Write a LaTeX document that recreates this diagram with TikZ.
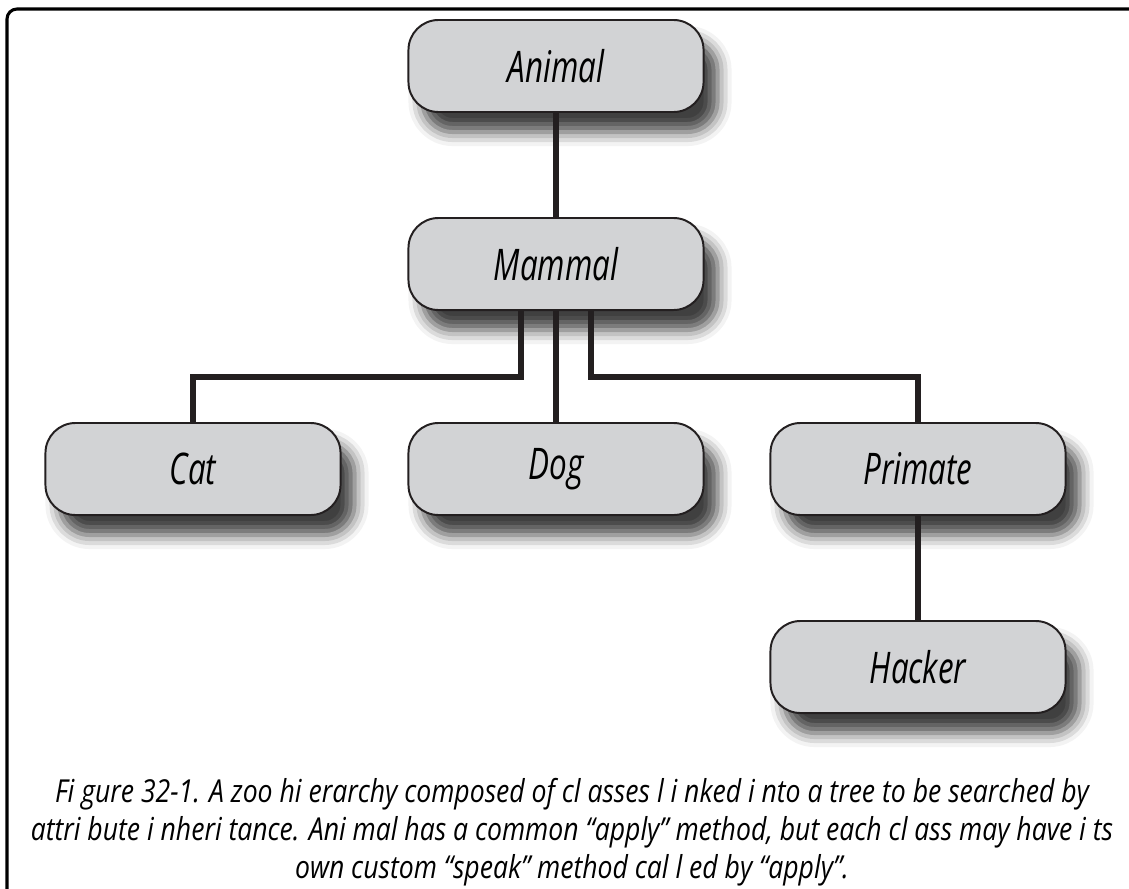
\documentclass[tikz,border=0pt]{standalone}
\usepackage{fontspec}
\newfontfamily\zoofont[FakeStretch=0.72]{Open Sans}
\newfontfamily\capfont[FakeStretch=0.84]{Open Sans}
\usetikzlibrary{shadows.blur,positioning}
\definecolor{boxfill}{RGB}{210,211,213}
\definecolor{linecol}{RGB}{35,31,32}

\begin{document}
\begin{tikzpicture}[x=0.025cm,y=-0.025cm,
    cls/.style={draw=linecol, line width=1.4pt, fill=boxfill, rounded corners=0.75cm,
        minimum width=7.375cm, minimum height=2.3cm, inner sep=0pt,
        font=\zoofont\itshape\fontsize{31}{36}\selectfont,
        blur shadow={shadow xshift=0.35cm, shadow yshift=-0.5cm,
            shadow blur radius=0.35cm, shadow opacity=75}},
    link/.style={draw=linecol, line width=3.6pt}]
    \useasboundingbox (0,0) rectangle (1129,888);
    \draw[line width=2.2pt, rounded corners=0.25cm] (7,900) -- (7,9) -- (1140,9);

    \node[cls] (A) at (556,66) {Animal};
    \node[cls] (M) at (556,264) {Mammal};
    \node[cls] (C) at (193,469) {Cat};
    \node[cls] (D) at (556,469) {Dog};
    \node[cls] (P) at (918,469) {Primate};
    \node[cls] (H) at (918,667) {Hacker};
    \coordinate (J) at (556,377);

    \node[font=\capfont\itshape\fontsize{22.5}{27}\selectfont, align=center] (Cap) at (572,832)
        {Fi gure 32-1.  A zoo hi erarchy composed of cl asses l i nked i nto a tree to be searched by\\
        attri bute i nheri tance.  Ani mal  has a common “apply” method,  but each cl ass may have i ts\\
        own custom “speak” method cal l ed by “apply”.};

    \draw[link] (A) -- (M);
    \draw[link] ([xshift=-0.875cm]M.south) |- (C.north |- J) -- (C.north);
    \draw[link] (M.south) -- (D.north);
    \draw[link] ([xshift=0.875cm]M.south) |- (P.north |- J) -- (P.north);
    \draw[link] (P) -- (H);
\end{tikzpicture}
\end{document}
